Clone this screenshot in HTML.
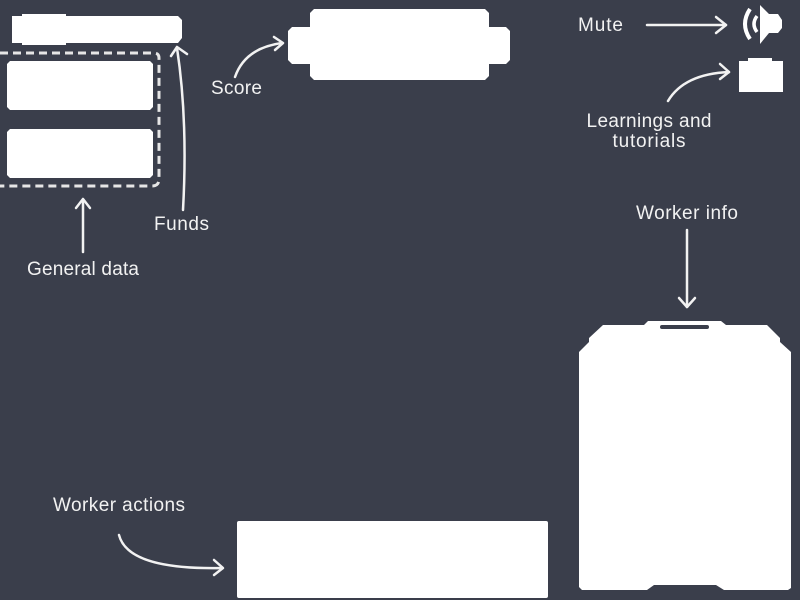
<!DOCTYPE html>
<html><head><style>
html,body{margin:0;padding:0;background:#3a3e4b;width:800px;height:600px;overflow:hidden}
svg{display:block}
text{font-family:"Liberation Sans",sans-serif;font-size:19px;fill:#f2f2f2}
</style></head><body>
<svg width="800" height="600" viewBox="0 0 800 600">
<rect width="800" height="600" fill="#3a3e4b"/>
<g fill="#fff">
<polygon points="12,16 22,16 22,14 66,14 66,16 178,16 182,20 182,38 178,43 66,43 66,45 22,45 22,43 12,43"/>
<polygon points="10,61 150,61 153,64 153,107 150,110 10,110 7,107 7,64"/>
<polygon points="10,129 150,129 153,132 153,175 150,178 10,178 7,175 7,132"/>
<polygon points="314,9 485,9 489,13 489,27 506,27 510,31 510,60 506,64 489,64 489,76 485,80 314,80 310,76 310,64 292,64 288,60 288,31 292,27 310,27 310,13"/>
<polygon points="760,5 769,14 778,14 782,20 782,28 778,33 769,33 760,44"/>
<path d="M750,9 Q740,24 750,39" stroke="#fff" stroke-width="4" fill="none"/>
<path d="M757,16 Q751,24 757,32" stroke="#fff" stroke-width="3.5" fill="none"/>
<polygon points="739,61 748,61 748,58 772,58 772,61 783,61 783,92 739,92"/>
<polygon points="648,321 721,321 726,325 767,325 780,338 780,342 791,352 791,588 788,590 724,590 716,585 654,585 647,590 582,590 579,587 579,352 589,342 589,338 603,325 644,325"/>
<rect x="237" y="521" width="311" height="77" rx="2"/>
</g>
<rect x="660" y="325" width="49" height="4" rx="2" fill="#3a3e4b"/>
<path d="M0,53 H154 Q159,53 159,58 V179 Q159,186 152,186 H0" fill="none" stroke="#e6e6e6" stroke-width="3" stroke-dasharray="8,5"/>
<g stroke="#f2f2f2" stroke-width="2.5" fill="none" stroke-linecap="round" stroke-linejoin="round">
<path d="M83,252 V200"/><path d="M76,208 L83,199 L90,208"/>
<path d="M183,210 Q188,120 177,48"/><path d="M171,56 L177,47 L187,54"/>
<path d="M235,77 Q245,48 282,43"/><path d="M274,37 L283,43 L275,50"/>
<path d="M647,25 H726"/><path d="M716,17 L726,25 L716,33"/>
<path d="M668,101 Q684,74 729,72"/><path d="M720,64 L729,72 L720,79"/>
<path d="M687,230 V307"/><path d="M679,298 L687,307 L695,298"/>
<path d="M119,535 Q128,570 222,568"/><path d="M214,560 L223,568 L214,575"/>
</g>
<text x="27" y="275" textLength="112">General data</text>
<text x="154" y="230" textLength="55">Funds</text>
<text x="211" y="94" textLength="51">Score</text>
<text x="578" y="31" textLength="45">Mute</text>
<text x="649" y="127" text-anchor="middle" textLength="125">Learnings and</text>
<text x="649" y="147" text-anchor="middle" textLength="73">tutorials</text>
<text x="636" y="219" textLength="102">Worker info</text>
<text x="53" y="511" textLength="132">Worker actions</text>
</svg>
</body></html>
